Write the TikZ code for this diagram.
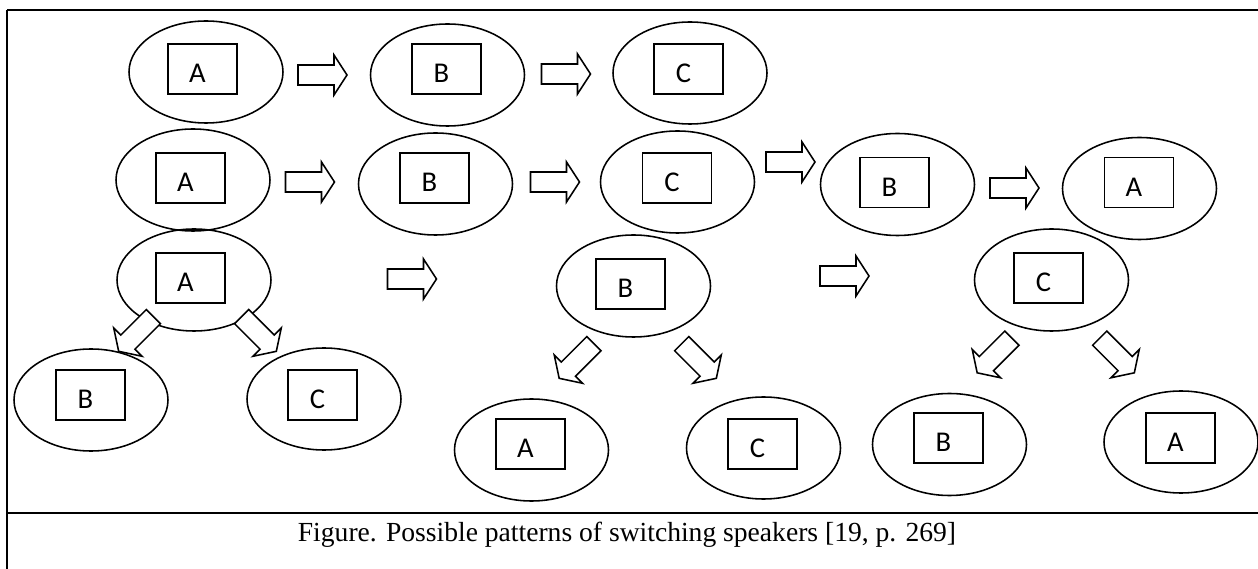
\documentclass[tikz,border=0pt]{standalone}
\usepackage{fontspec}
\usepackage{tikz}
\usetikzlibrary{shapes.geometric}

\newfontfamily\letterfont{Carlito}
\newfontfamily\captionfont{Liberation Serif}
\newlength\pxu
\setlength\pxu{0.0135cm}

\begin{document}
\begin{tikzpicture}[
  x=0.0135cm, y=-0.0135cm,
  ell/.style={draw, ellipse, line width=0.6pt, minimum width=154\pxu, minimum height=102\pxu, inner sep=0pt},
  spk/.style={draw, line width=0.6pt, minimum width=69\pxu, minimum height=50\pxu, inner sep=0pt, label={[letter]center:#1}},
  letter/.style={font=\letterfont\fontsize{11pt}{13pt}\selectfont, inner sep=0pt, text height=28\pxu, text depth=0pt, xshift=-5\pxu},
  frame/.style={line width=0.8pt},
  blockarrow/.pic={
    \draw[line width=0.6pt, fill=white] (-24.5,-10) -- (11.5,-10) -- (11.5,-20) -- (24.5,0)
      -- (11.5,20) -- (11.5,10) -- (-24.5,10) -- cycle;
  },
]
\useasboundingbox (0,0) rectangle (1258,569);

% Frame and caption rule
\draw[frame] (7,10) -- (1258,10);
\draw[frame] (7,10) -- (7,569);
\draw[frame] (7,513) -- (1258,513);

% Row one: A, B, C
\node[ell] (r1A) at (206,72) {};
\node[spk=A] (r1Abox) at (202.5,69) {};
\node[ell] (r1B) at (447.5,75) {};
\node[spk=B] (r1Bbox) at (446.5,69) {};
\node[ell] (r1C) at (690,73) {};
\node[spk=C] (r1Cbox) at (688.5,69) {};

% Row two: A, B, C, B, A
\node[ell] (r2A) at (193,180) {};
\node[spk=A] (r2Abox) at (190.5,178) {};
\node[ell] (r2B) at (435.5,184) {};
\node[spk=B] (r2Bbox) at (434.5,178) {};
\node[ell] (r2C) at (677.5,182) {};
\node[spk=C] (r2Cbox) at (677,178) {};
\node[ell] (r2Bb) at (897.5,184.5) {};
\node[spk=B] (r2Bbbox) at (894.5,182.5) {};
\node[ell] (r2Ab) at (1139.5,188.5) {};
\node[spk=A] (r2Abbox) at (1139,182.5) {};

% First tree: A splits to B and C
\node[ell] (t1A) at (194,280) {};
\node[spk=A] (t1Abox) at (190.5,278) {};
\node[ell] (t1B) at (91,400) {};
\node[spk=B] (t1Bbox) at (90.5,395) {};
\node[ell] (t1C) at (324,399) {};
\node[spk=C] (t1Cbox) at (322.5,395) {};

% Second tree: B splits to A and C
\node[ell] (t2B) at (633.5,286) {};
\node[spk=B] (t2Bbox) at (630.5,284) {};
\node[ell] (t2A) at (531.5,450) {};
\node[spk=A] (t2Abox) at (530.5,444) {};
\node[ell] (t2C) at (763.5,448) {};
\node[spk=C] (t2Cbox) at (762.5,444) {};

% Third tree: C splits to B and A
\node[ell] (t3C) at (1051.5,280) {};
\node[spk=C] (t3Cbox) at (1048.5,278) {};
\node[ell] (t3B) at (949.5,444.5) {};
\node[spk=B] (t3Bbox) at (948.5,438) {};
\node[ell] (t3A) at (1181,442) {};
\node[spk=A] (t3Abox) at (1180.5,438) {};

% Block arrows, row one and two
\pic at (322.5,75) {blockarrow};
\pic at (566,74) {blockarrow};
\pic at (310,182) {blockarrow};
\pic at (555,182) {blockarrow};
\pic at (790.5,162) {blockarrow};
\pic at (1014.5,188) {blockarrow};

% Block arrows between the trees
\pic at (412,279) {blockarrow};
\pic at (844.5,276) {blockarrow};

% Block arrows inside the trees
\pic[rotate=225] at (136,334) {blockarrow};
\pic[rotate=-45] at (259,334) {blockarrow};
\pic[rotate=225] at (576.5,361) {blockarrow};
\pic[rotate=-45] at (699,361) {blockarrow};
\pic[rotate=225] at (994.5,355.5) {blockarrow};
\pic[rotate=-45] at (1117,355.5) {blockarrow};

% Caption
\node[font=\captionfont\fontsize{10.6pt}{12pt}\selectfont, anchor=base] (caption) at (627,541.5)
  {Figure. Possible patterns of switching speakers [19, p. 269]};
\end{tikzpicture}
\end{document}
